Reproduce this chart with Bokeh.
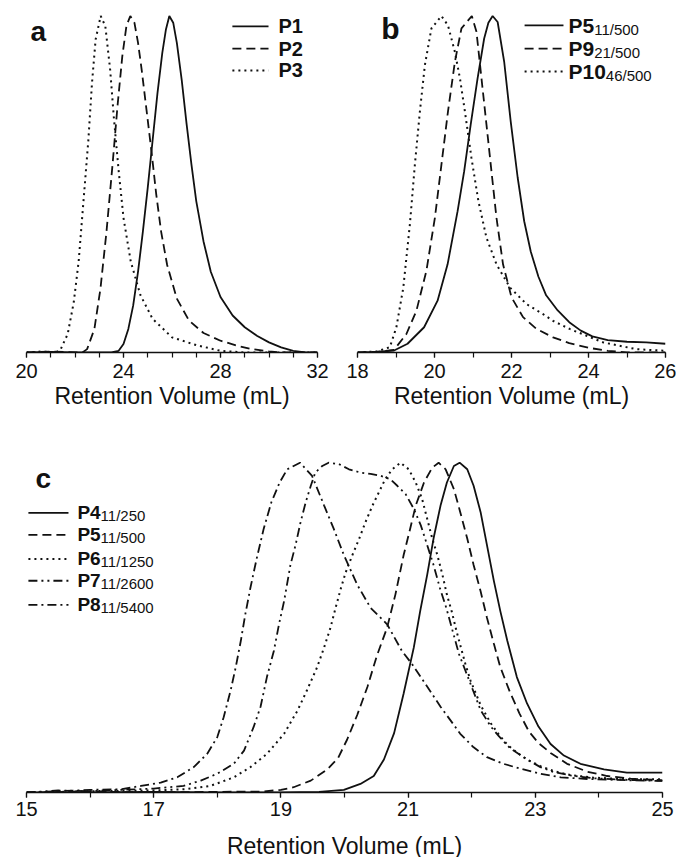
from bokeh.plotting import figure
from bokeh.models import Range1d, FixedTicker, Label
from bokeh.layouts import column, row
from bokeh.embed import file_html
from bokeh.resources import INLINE

# ---------------- panel a: P1, P2, P3 ----------------
a_p1_x = [20.0, 21.0, 22.0, 23.0, 23.5, 23.8, 24.0, 24.2, 24.4, 24.6, 24.8, 25.0, 25.2, 25.4, 25.6, 25.75,
          25.89, 26.05, 26.2, 26.4, 26.6, 26.8, 27.0, 27.3, 27.6, 28.0, 28.5, 29.0, 29.5, 30.0, 30.5, 31.0, 31.5, 32.0]
a_p1_y = [0.0, 0.002, 0.0, 0.0, 0.0, 0.005, 0.025, 0.07, 0.14, 0.24, 0.36, 0.49, 0.63, 0.77, 0.89, 0.96,
          1.0, 0.98, 0.92, 0.81, 0.68, 0.56, 0.45, 0.33, 0.24, 0.165, 0.11, 0.075, 0.05, 0.03, 0.015, 0.005, 0.0, 0.0]

a_p2_x = [20.0, 21.0, 22.0, 22.3, 22.5, 22.8, 23.05, 23.3, 23.55, 23.75, 23.95, 24.12, 24.28, 24.45, 24.6, 24.75,
          24.95, 25.15, 25.35, 25.55, 25.8, 26.2, 26.7, 27.3, 28.0, 28.7, 29.3, 30.0, 30.5, 32.0]
a_p2_y = [0.0, 0.003, 0.0, 0.0, 0.01, 0.07, 0.19, 0.36, 0.56, 0.73, 0.88, 0.97, 1.0, 0.98, 0.92, 0.84,
          0.72, 0.6, 0.47, 0.36, 0.26, 0.16, 0.095, 0.058, 0.035, 0.02, 0.01, 0.003, 0.0, 0.0]

a_p3_x = [20.0, 20.6, 21.2, 21.4, 21.7, 21.95, 22.15, 22.35, 22.55, 22.7, 22.85, 23.06, 23.25, 23.45, 23.6, 23.8,
          24.0, 24.3, 24.7, 25.2, 26.0, 27.0, 28.0, 29.0, 32.0]
a_p3_y = [0.0, 0.003, 0.0, 0.008, 0.055, 0.15, 0.27, 0.45, 0.63, 0.8, 0.93, 1.0, 0.97, 0.84, 0.7, 0.54,
          0.4, 0.27, 0.17, 0.1, 0.045, 0.022, 0.005, 0.0, 0.0]

# ---------------- panel b: P5, P9, P10 ----------------
b_p5_x = [18.0, 18.5, 18.95, 19.3, 19.73, 20.08, 20.34, 20.6, 20.77, 20.94, 21.12, 21.29, 21.4, 21.51, 21.64,
          21.81, 21.98, 22.16, 22.33, 22.5, 22.7, 22.9, 23.2, 23.5, 23.8, 24.1, 24.5, 25.0, 25.5, 26.0]
b_p5_y = [0.0, 0.002, 0.006, 0.026, 0.075, 0.154, 0.262, 0.42, 0.538, 0.677, 0.815, 0.933, 0.98, 1.0, 0.982,
          0.864, 0.686, 0.52, 0.39, 0.3, 0.225, 0.17, 0.125, 0.09, 0.065, 0.048, 0.037, 0.032, 0.03, 0.026]

b_p9_x = [18.0, 18.5, 18.95, 19.27, 19.53, 19.79, 20.01, 20.18, 20.35, 20.53, 20.7, 20.97, 21.09, 21.22, 21.35,
          21.48, 21.61, 21.78, 22.0, 22.3, 22.65, 23.08, 23.5, 24.0, 24.5, 25.0, 26.0]
b_p9_y = [0.0, 0.002, 0.008, 0.055, 0.124, 0.243, 0.40, 0.558, 0.716, 0.864, 0.963, 1.0, 0.953, 0.815, 0.677,
          0.538, 0.40, 0.262, 0.164, 0.105, 0.07, 0.045, 0.028, 0.014, 0.005, 0.0, 0.0]

b_p10_x = [18.0, 18.5, 18.84, 19.01, 19.19, 19.36, 19.49, 19.62, 19.75, 19.92, 20.18, 20.35, 20.53, 20.66, 20.79,
           20.96, 21.14, 21.35, 21.61, 21.96, 22.39, 22.82, 23.08, 23.51, 24.38, 25.24, 26.0]
b_p10_y = [0.0, 0.003, 0.016, 0.075, 0.193, 0.38, 0.558, 0.716, 0.854, 0.963, 1.0, 0.972, 0.893, 0.815, 0.716,
           0.578, 0.45, 0.341, 0.262, 0.193, 0.144, 0.114, 0.094, 0.07, 0.03, 0.01, 0.005]

# ---------------- panel c: P4 .. P8 ----------------
c_p4_x = [15.0, 16.0, 17.0, 18.0, 19.0, 19.6, 19.99, 20.25, 20.46, 20.62, 20.78, 20.93, 21.09, 21.19, 21.3,
          21.4, 21.51, 21.61, 21.72, 21.81, 21.93, 22.03, 22.14, 22.24, 22.35, 22.45, 22.56, 22.71, 22.87,
          23.05, 23.24, 23.45, 23.71, 24.08, 24.44, 25.0]
c_p4_y = [0.0, 0.0, 0.002, 0.0, 0.0, 0.002, 0.008, 0.026, 0.05, 0.1, 0.18, 0.3, 0.44, 0.55, 0.66,
          0.77, 0.87, 0.94, 0.99, 1.0, 0.98, 0.93, 0.85, 0.75, 0.64, 0.55, 0.46, 0.35, 0.27,
          0.2, 0.147, 0.112, 0.087, 0.07, 0.06, 0.06]

c_p5_x = [15.0, 16.0, 17.0, 18.0, 18.7, 19.0, 19.2, 19.47, 19.73, 19.9, 20.04, 20.2, 20.36, 20.51, 20.67,
          20.8, 20.93, 21.02, 21.12, 21.25, 21.38, 21.48, 21.59, 21.72, 21.82, 21.93, 22.03, 22.14, 22.24,
          22.35, 22.45, 22.6, 22.75, 22.9, 23.05, 23.24, 23.5, 23.82, 24.13, 24.5, 25.0]
c_p5_y = [0.0, 0.003, 0.0, 0.002, 0.003, 0.008, 0.016, 0.036, 0.07, 0.105, 0.16, 0.235, 0.32, 0.415, 0.5,
          0.6, 0.72, 0.79, 0.87, 0.94, 0.985, 1.0, 0.98, 0.92, 0.85, 0.77, 0.69, 0.61, 0.53,
          0.45, 0.38, 0.305, 0.24, 0.185, 0.15, 0.12, 0.087, 0.063, 0.05, 0.042, 0.037]

c_p6_x = [15.0, 16.0, 17.0, 17.5, 17.89, 18.26, 18.52, 18.78, 19.05, 19.26, 19.41, 19.57, 19.68, 19.78, 19.86,
          19.94, 20.02, 20.12, 20.23, 20.33, 20.44, 20.54, 20.64, 20.75, 20.88, 21.01, 21.12, 21.22, 21.3,
          21.38, 21.46, 21.54, 21.61, 21.69, 21.76, 21.83, 21.9, 21.98, 22.14, 22.3, 22.43, 22.56, 22.72,
          22.87, 23.08, 23.29, 23.55, 23.92, 24.5, 25.0]
c_p6_y = [0.0, 0.004, 0.006, 0.01, 0.02, 0.046, 0.077, 0.117, 0.178, 0.248, 0.31, 0.38, 0.44, 0.5, 0.56,
          0.617, 0.668, 0.718, 0.769, 0.82, 0.87, 0.91, 0.95, 0.98, 1.0, 0.98, 0.94, 0.89, 0.83,
          0.77, 0.72, 0.66, 0.6, 0.546, 0.49, 0.44, 0.39, 0.34, 0.265, 0.21, 0.175, 0.145, 0.12,
          0.1, 0.08, 0.065, 0.053, 0.045, 0.04, 0.04]

c_p7_x = [15.0, 15.5, 16.0, 16.5, 17.0, 17.47, 17.74, 18.0, 18.26, 18.42, 18.57, 18.68, 18.78, 18.89, 18.97,
          19.05, 19.15, 19.23, 19.31, 19.39, 19.47, 19.54, 19.65, 19.75, 19.91, 20.07, 20.25, 20.41, 20.57,
          20.72, 20.83, 20.96, 21.09, 21.2, 21.3, 21.4, 21.5, 21.6, 21.7, 21.8, 21.9, 21.98, 22.14, 22.3,
          22.43, 22.6, 22.87, 23.08, 23.29, 23.55, 23.92, 24.5, 25.0]
c_p7_y = [0.0, 0.006, 0.004, 0.008, 0.012, 0.02, 0.036, 0.057, 0.087, 0.127, 0.198, 0.26, 0.35, 0.43, 0.51,
          0.58, 0.69, 0.75, 0.82, 0.88, 0.93, 0.97, 0.99, 1.0, 0.996, 0.98, 0.97, 0.966, 0.96,
          0.95, 0.93, 0.905, 0.86, 0.81, 0.75, 0.69, 0.62, 0.56, 0.49, 0.42, 0.37, 0.33, 0.25, 0.2,
          0.17, 0.135, 0.1, 0.077, 0.062, 0.052, 0.043, 0.038, 0.036]

c_p8_x = [15.0, 15.5, 16.0, 16.5, 16.8, 17.11, 17.37, 17.63, 17.84, 18.0, 18.1, 18.21, 18.29, 18.37, 18.44,
          18.52, 18.62, 18.73, 18.85, 18.98, 19.1, 19.3, 19.49, 19.68, 19.83, 19.99, 20.2, 20.41, 20.67,
          20.9, 21.06, 21.27, 21.51, 21.67, 21.82, 22.03, 22.24, 22.5, 22.77, 23.08, 23.4, 23.82, 24.5, 25.0]
c_p8_y = [0.0, 0.004, 0.008, 0.01, 0.02, 0.03, 0.046, 0.077, 0.117, 0.168, 0.228, 0.31, 0.38, 0.46, 0.54,
          0.62, 0.71, 0.8, 0.88, 0.94, 0.98, 1.0, 0.96, 0.87, 0.80, 0.72, 0.63, 0.56, 0.51,
          0.43, 0.39, 0.33, 0.26, 0.218, 0.178, 0.137, 0.107, 0.087, 0.072, 0.057, 0.046, 0.041, 0.037, 0.035]

# tick values per panel
a_ticks = [20, 24, 28, 32]
a_minor = list(range(20, 33))
b_ticks = [18, 20, 22, 24, 26]
b_minor = list(range(18, 27))
c_ticks = [15, 17, 19, 21, 23, 25]
c_minor = list(range(15, 26))

x_title = "Retention Volume (mL)"
FONT = "Liberation Sans"
INK = "#111111"

SOLID = "solid"
DASH = "9 5"
DOT = "2 4"
DASH_DOT_DOT = "9 4 2 4 2 4"
DASH_DOT = "9 4 2 4"
LW = 1.8


def make_panel(width, height, xr, ticks, minor, borders, with_title=True):
    left, right, top, bottom = borders
    p = figure(width=width, height=height, x_range=Range1d(*xr), y_range=Range1d(0, 1.04),
               output_backend="svg", toolbar_location=None, y_axis_location=None,
               min_border_left=left, min_border_right=right,
               min_border_top=top, min_border_bottom=bottom)
    p.outline_line_color = None
    p.grid.visible = False
    p.background_fill_color = "white"
    p.border_fill_color = "white"
    ax = p.xaxis[0]
    ax.ticker = FixedTicker(ticks=ticks, minor_ticks=minor)
    ax.axis_line_color = INK
    ax.axis_line_width = 1.5
    ax.major_tick_line_color = INK
    ax.minor_tick_line_color = INK
    ax.major_tick_line_width = 1.2
    ax.minor_tick_line_width = 1.2
    ax.major_tick_in = 0
    ax.major_tick_out = 5
    ax.minor_tick_in = 0
    ax.minor_tick_out = 5
    ax.major_label_text_font = FONT
    ax.major_label_text_font_size = "20px"
    ax.major_label_text_color = INK
    ax.major_label_standoff = 6
    if with_title:
        ax.axis_label = x_title
        ax.axis_label_text_font = FONT
        ax.axis_label_text_font_size = "23px"
        ax.axis_label_text_font_style = "normal"
        ax.axis_label_text_color = INK
        ax.axis_label_standoff = 2
    return p


def curve(p, xs, ys, dash):
    p.line(xs, ys, line_color=INK, line_width=LW if dash != DOT else 2.0, line_dash=dash)


def legend_row(p, x0, x1, xt, y, dash, name, size, sub=None, sub_dx=0.0, sub_dy=0.0, sub_size="15px"):
    p.line([x0, x1], [y, y], line_color=INK, line_width=LW if dash != DOT else 2.0, line_dash=dash)
    p.add_layout(Label(x=xt, y=y, text=name, text_font=FONT, text_font_size=size,
                       text_font_style="bold", text_color=INK, text_baseline="middle"))
    if sub:
        p.add_layout(Label(x=xt + sub_dx, y=y - sub_dy, text=sub, text_font=FONT,
                           text_font_size=sub_size, text_color=INK, text_baseline="middle"))


def tag(p, x, y, letter, size):
    p.add_layout(Label(x=x, y=y, text=letter, text_font=FONT, text_font_size=size,
                       text_font_style="bold", text_color=INK, text_baseline="middle"))


# panel a
pa = make_panel(338, 418, (20, 32), a_ticks, a_minor, (26, 21, 2, 66))
curve(pa, a_p1_x, a_p1_y, SOLID)
curve(pa, a_p2_x, a_p2_y, DASH)
curve(pa, a_p3_x, a_p3_y, DOT)
tag(pa, 20.16, 0.955, "a", "28px")
legend_row(pa, 28.49, 29.98, 30.39, 0.969, SOLID, "P1", "20px")
legend_row(pa, 28.49, 29.98, 30.39, 0.903, DASH, "P2", "20px")
legend_row(pa, 28.49, 29.98, 30.39, 0.838, DOT, "P3", "20px")

# panel b
pb = make_panel(338, 418, (18, 26), b_ticks, b_minor, (19, 11, 2, 66))
curve(pb, b_p5_x, b_p5_y, SOLID)
curve(pb, b_p9_x, b_p9_y, DASH)
curve(pb, b_p10_x, b_p10_y, DOT)
tag(pb, 18.62, 0.962, "b", "30px")
legend_row(pb, 22.34, 23.35, 23.48, 0.972, SOLID, "P5", "21px", "11/500", 0.667, 0.012)
legend_row(pb, 22.34, 23.35, 23.48, 0.903, DASH, "P9", "21px", "21/500", 0.667, 0.012)
legend_row(pb, 22.34, 23.35, 23.48, 0.835, DOT, "P10", "21px", "46/500", 0.97, 0.012)

# panel c (its axis title goes in a thin strip underneath)
pc = make_panel(676, 411, (15, 25), c_ticks, c_minor, (26, 14, 31, 37), with_title=False)
pc.xaxis[0].major_label_standoff = 4
curve(pc, c_p4_x, c_p4_y, SOLID)
curve(pc, c_p5_x, c_p5_y, DASH)
curve(pc, c_p6_x, c_p6_y, DOT)
curve(pc, c_p7_x, c_p7_y, DASH_DOT_DOT)
curve(pc, c_p8_x, c_p8_y, DASH_DOT)
tag(pc, 15.14, 0.952, "c", "28px")
c_names = ["P4", "P5", "P6", "P7", "P8"]
c_subs = ["11/250", "11/500", "11/1250", "11/2600", "11/5400"]
c_dashes = [SOLID, DASH, DOT, DASH_DOT_DOT, DASH_DOT]
c_rows = [0.848, 0.781, 0.708, 0.642, 0.569]
for nm, sb, ds, yy in zip(c_names, c_subs, c_dashes, c_rows):
    legend_row(pc, 15.03, 15.66, 15.80, yy, ds, nm, "19px", sb, 0.365, 0.009)

# title strip for panel c, sharing its x range so the text centres on the axis
strip = figure(width=676, height=28, x_range=pc.x_range, y_range=Range1d(0, 28),
               output_backend="svg", toolbar_location=None,
               x_axis_location=None, y_axis_location=None,
               min_border_left=26, min_border_right=14, min_border_top=0, min_border_bottom=0)
strip.outline_line_color = None
strip.grid.visible = False
strip.add_layout(Label(x=20.0, y=12, text=x_title, text_font=FONT, text_font_size="23px",
                       text_color=INK, text_align="center", text_baseline="middle"))

layout = column(row(pa, pb), pc, strip)
open("out.html", "w").write(file_html(layout, INLINE))
